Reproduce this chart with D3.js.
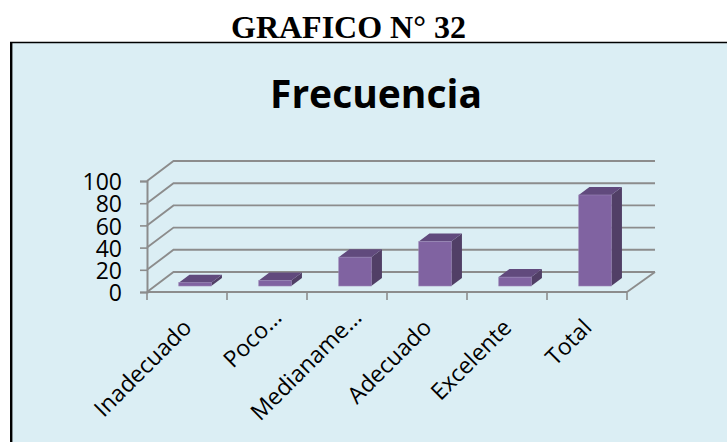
<!DOCTYPE html>
<html>
<head>
<meta charset="utf-8">
<script src="https://cdn.jsdelivr.net/npm/d3@7"></script>
<style>
body { margin: 0; background: #fff; overflow: hidden; }
svg { display: block; }
</style>
</head>
<body>
<div id="chart"></div>
<script>
//DATA
const categories = ['Inadecuado', 'Poco...', 'Medianame...', 'Adecuado', 'Excelente', 'Total'];
const values = [3, 5, 26, 40, 8, 82];
const yTicks = [0, 20, 40, 60, 80, 100];

const width = 727;
const height = 442;
const depthX = 26.5;   // floor offset front -> back
const depthY = 20;

const svg = d3.select('#chart').append('svg').attr('width', width).attr('height', height);

//FRAME (runs off the right and bottom of the picture)
svg.append('rect').attr('x', 11).attr('y', 42.5).attr('width', 760).attr('height', 440)
    .attr('fill', '#dbeef4').attr('stroke', 'none');
svg.append('line').attr('x1', 10).attr('x2', width).attr('y1', 42.5).attr('y2', 42.5)
    .attr('stroke', '#000').attr('stroke-width', 1.6);
svg.append('line').attr('x1', 11.2).attr('x2', 11.2).attr('y1', 42).attr('y2', height)
    .attr('stroke', '#000').attr('stroke-width', 2.4);

//TITLES
svg.append('text').attr('x', 348.5).attr('y', 38).attr('text-anchor', 'middle')
    .style('font', 'bold 32px "Liberation Serif"').text('GRAFICO N° 32');
svg.append('text').attr('x', 376).attr('y', 108).attr('text-anchor', 'middle')
    .style('font', 'bold 39px "Open Sans"').text('Frecuencia');

//SCALES
const x = d3.scaleBand().domain(categories).range([147, 627]);
const y = d3.scaleLinear().domain([0, 100]).range([292, 181]);
const gridColor = '#8c8c8c';

//WALLS
const grid = svg.append('g').attr('fill', 'none').attr('stroke', gridColor).attr('stroke-width', 1.9);
yTicks.forEach(t => {
    grid.append('path').attr('d', d3.line()([
        [x.range()[0], y(t)],
        [x.range()[0] + depthX, y(t) - depthY],
        [x.range()[1] + depthX + 1.5, y(t) - depthY]
    ]));
});
grid.append('path').attr('d', d3.line()([
    [x.range()[1], y(0)],
    [x.range()[1] + depthX + 1.5, y(0) - depthY]
]));

//AXES
const yAxis = svg.append('g').attr('transform', 'translate(147,0)')
    .call(d3.axisLeft(y).tickValues(yTicks).tickSize(7).tickPadding(18));
yAxis.select('.domain').attr('stroke', gridColor).attr('stroke-width', 2);
yAxis.selectAll('line').attr('stroke', gridColor).attr('stroke-width', 1.6);
yAxis.selectAll('text').style('font', '23px "Open Sans"').attr('fill', '#000')
    .attr('dy', '0.38em');

const xAxis = svg.append('g').attr('transform', 'translate(0,292)');
xAxis.append('line').attr('x1', 147).attr('x2', 627)
    .attr('stroke', gridColor).attr('stroke-width', 2);
[...categories.map(c => x(c)), x.range()[1]].forEach(px => {
    xAxis.append('line').attr('x1', px).attr('x2', px).attr('y1', 0).attr('y2', 8)
        .attr('stroke', gridColor).attr('stroke-width', 1.6);
});
// cut-off labels sit a little further up the slope
const nudge = d => d.endsWith('...') ? 10 : 0;
xAxis.selectAll('text').data(categories).enter().append('text')
    .attr('transform', d => 'translate(' + (x(d) + x.bandwidth() / 2 + 6 + nudge(d)) + ',' + (37 - nudge(d)) + ') rotate(-45)')
    .attr('text-anchor', 'end')
    .style('font', '23px "Open Sans"')
    .text(d => d);

//BARS
const barWidth = 32.5;
const barDx = 10.7;
const barDy = 8;
const barBase = 286;
const bars = svg.append('g').selectAll('g').data(categories).enter().append('g');
const h = (d, i) => y(0) - y(values[i]);
const left = d => x(d) + x.bandwidth() / 2 - barWidth / 2 + 8;

bars.append('path').attr('fill', '#513f66').attr('d', (d, i) => {
    const l = left(d) + barWidth, t = barBase - h(d, i);
    return d3.line()([[l, barBase], [l + barDx, barBase - barDy], [l + barDx, t - barDy], [l, t]]) + 'Z';
});
bars.append('path').attr('fill', '#614a7d').attr('d', (d, i) => {
    const l = left(d), t = barBase - h(d, i);
    return d3.line()([[l, t], [l + barDx, t - barDy], [l + barWidth + barDx, t - barDy], [l + barWidth, t]]) + 'Z';
});
bars.append('rect').attr('fill', '#8063a1')
    .attr('stroke', '#9a86b6').attr('stroke-width', 0.6)
    .attr('x', d => left(d))
    .attr('y', (d, i) => barBase - h(d, i))
    .attr('width', barWidth)
    .attr('height', (d, i) => h(d, i));
</script>
</body>
</html>
